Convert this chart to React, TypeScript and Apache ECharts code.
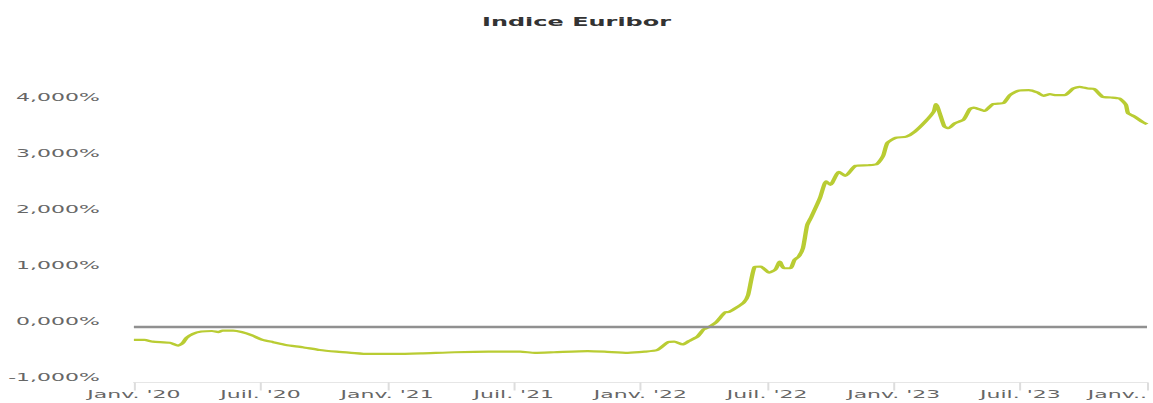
import React, { useEffect, useRef } from "react";
import * as echarts from "echarts";

// Months elapsed since Janv. 2020 (x position of each reading)
const monthOffsets = [
  0.0, 0.5, 0.9, 1.7, 2.1, 2.3, 2.5, 2.8, 3.2, 3.7, 4.0, 4.2, 4.7, 5.1, 5.6,
  6.1, 6.6, 7.2, 8.0, 8.8, 9.6, 10.3, 11.1, 12.4, 13.6, 15.2, 16.8, 18.3,
  19.0, 19.9, 21.5, 22.3, 23.4, 24.2, 24.8, 25.3, 25.6, 26.0, 26.3, 26.7,
  27.0, 27.2, 27.6, 28.0, 28.2, 28.6, 28.9, 29.1, 29.4, 29.7, 30.1, 30.4,
  30.6, 30.8, 31.1, 31.3, 31.5, 31.7, 31.9, 32.1, 32.5, 32.8, 33.0, 33.4,
  33.7, 34.2, 34.8, 35.2, 35.5, 35.7, 36.1, 36.6, 37.0, 37.5, 37.9, 38.0,
  38.4, 38.6, 38.9, 39.3, 39.6, 39.8, 40.3, 40.7, 41.2, 41.5, 41.9, 42.4,
  42.8, 43.1, 43.4, 43.7, 44.1, 44.5, 44.8, 45.2, 45.5, 45.9, 46.3, 46.7,
  47.0, 47.1, 47.4, 47.8, 48.0,
];

// Euribor index, in %
const euriborValues = [
  -0.24, -0.24, -0.27, -0.29, -0.34, -0.3, -0.2, -0.13, -0.09, -0.08, -0.1,
  -0.075, -0.075, -0.1, -0.16, -0.24, -0.28, -0.33, -0.37, -0.42, -0.45,
  -0.47, -0.49, -0.49, -0.48, -0.46, -0.45, -0.45, -0.47, -0.46, -0.44,
  -0.45, -0.47, -0.45, -0.42, -0.28, -0.27, -0.32, -0.26, -0.18, -0.05,
  -0.02, 0.08, 0.25, 0.26, 0.35, 0.43, 0.56, 1.06, 1.07, 0.96, 1.02, 1.16,
  1.04, 1.04, 1.19, 1.25, 1.4, 1.81, 1.96, 2.29, 2.59, 2.53, 2.76, 2.69,
  2.87, 2.88, 2.9, 3.05, 3.28, 3.37, 3.39, 3.48, 3.66, 3.84, 3.97, 3.57,
  3.54, 3.63, 3.69, 3.88, 3.91, 3.85, 3.97, 3.99, 4.13, 4.21, 4.22, 4.18,
  4.12, 4.15, 4.13, 4.13, 4.25, 4.28, 4.25, 4.24, 4.1, 4.09, 4.07, 3.96,
  3.81, 3.75, 3.65, 3.61,
];

const xTickLabels = [
  "Janv. '20",
  "Juil. '20",
  "Janv. '21",
  "Juil. '21",
  "Janv. '22",
  "Juil. '22",
  "Janv. '23",
  "Juil. '23",
  "Janv..",
];

const yTicks = [-1, 0, 1, 2, 3, 4];

const FONT = "DejaVu Sans";
const BASE_W = 577;
const H = 403;
const STRETCH = 1153 / BASE_W;

export default function App() {
  const ref = useRef<HTMLDivElement | null>(null);

  useEffect(() => {
    if (!ref.current) return;
    const chart = echarts.init(ref.current, null, { renderer: "svg" });
    const data = monthOffsets.map((m, i) => [m, euriborValues[i]]);
    chart.setOption({
      animation: false,
      title: {
        text: "Indice Euribor",
        left: "center",
        top: 11,
        textStyle: {
          fontFamily: FONT,
          fontSize: 12,
          fontWeight: "bold",
          color: "#333333",
        },
      },
      grid: { left: 67, right: 0.5, top: 74.5, bottom: 20.5 },
      xAxis: {
        type: "value",
        min: 0,
        max: 48,
        interval: 6,
        splitLine: { show: false },
        axisLine: { show: true, onZero: false, lineStyle: { color: "#e6e6e6" } },
        axisTick: { show: true, length: 8, lineStyle: { color: "#dddddd" } },
        axisLabel: {
          formatter: (v: number) => xTickLabels[Math.round(v / 6)] ?? "",
          margin: 6,
          fontSize: 11,
          fontFamily: FONT,
          color: "#666666",
          showMaxLabel: true,
          alignMaxLabel: "right",
        },
      },
      yAxis: {
        type: "value",
        min: -1,
        max: 4.5,
        interval: 1,
        splitLine: { show: false },
        axisLine: { show: false },
        axisTick: { show: false },
        axisLabel: {
          formatter: (v: number) =>
            yTicks.includes(v) ? v.toFixed(3).replace(".", ",") + "%" : "",
          margin: 17,
          verticalAlign: "bottom",
          fontSize: 11,
          fontFamily: FONT,
          color: "#666666",
        },
      },
      series: [
        {
          type: "line",
          data: [],
          silent: true,
          markLine: {
            silent: true,
            symbol: "none",
            label: { show: false },
            lineStyle: { color: "#909090", width: 2.3, type: "solid" },
            data: [{ yAxis: 0 }],
          },
        },
        {
          name: "Euribor",
          type: "line",
          data,
          showSymbol: false,
          symbol: "none",
          smooth: 0.2,
          lineStyle: { color: "#b9cc33", width: 2.2 },
        },
      ],
    });
    return () => chart.dispose();
  }, []);

  return (
    <div
      ref={ref}
      style={{
        position: "absolute",
        left: 0,
        top: 0,
        width: BASE_W,
        height: H,
        transform: `scaleX(${STRETCH})`,
        transformOrigin: "0 0",
        background: "#ffffff",
      }}
    />
  );
}
